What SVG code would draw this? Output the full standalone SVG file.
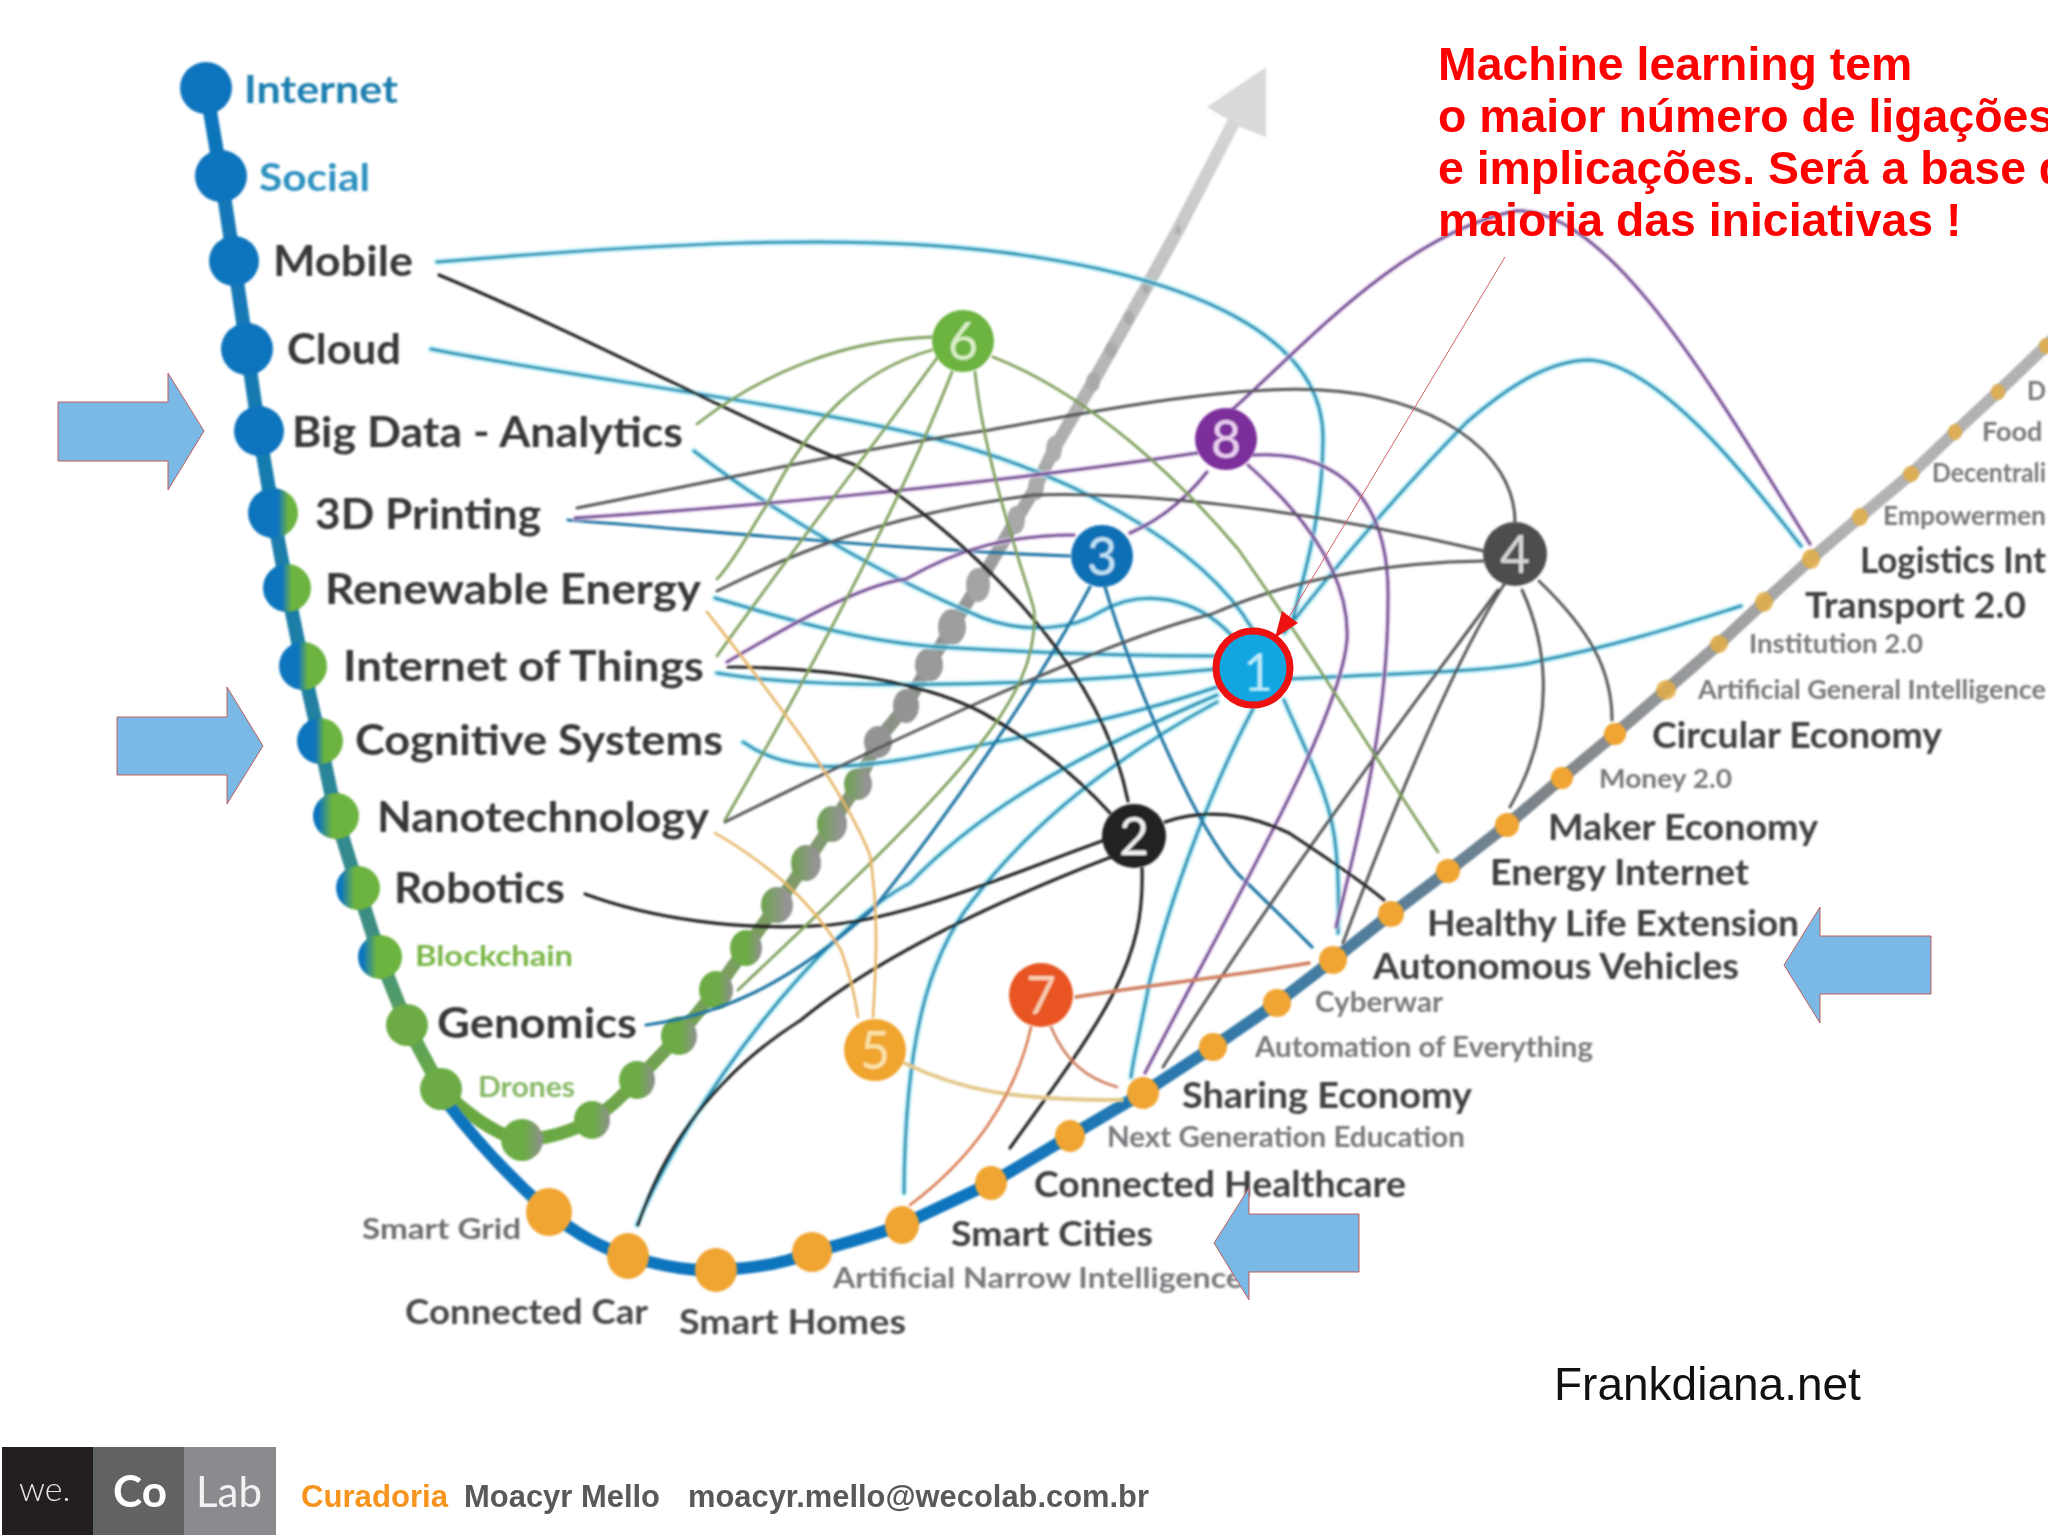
<svg xmlns="http://www.w3.org/2000/svg" xmlns:xlink="http://www.w3.org/1999/xlink" width="2048" height="1535" viewBox="0 0 2048 1535">
<style>
text{font-family:"Lato","Noto Sans",sans-serif}
.l{font-weight:700;fill:#38383a;font-size:42px}
.m{font-weight:700;fill:#3f4042;font-size:36px}
.s{font-weight:700;fill:#77787b;font-size:29px}
.d{font-weight:400;font-size:52px;text-anchor:middle}
.hl{font-family:"Liberation Sans",Arial,sans-serif;font-weight:700;font-size:46.4px;fill:#ff0000}
.ft{font-family:"Liberation Sans",Arial,sans-serif;font-weight:700;font-size:32px;fill:#58595b}
.c{fill:none;stroke-linecap:round}
.gr{stroke:#7f9f5c;stroke-width:2.8}
.or{stroke:#e7b566;stroke-width:2.6}
.dk{stroke:#555658;stroke-width:3}
.bk{stroke:#222;stroke-width:3.2}
.rd{stroke:#cf7d5d;stroke-width:2.6}
.arrow{fill:#7ab8e6;stroke:#c0605c;stroke-width:1}
.o{fill:#f0a532}
.t{fill:#e3ad45;opacity:.85}
.bl{fill:#0f75bd}
</style>
<defs>
<filter id="soft" x="-5%" y="-5%" width="110%" height="110%"><feGaussianBlur stdDeviation="0.8"/></filter>
<linearGradient id="spine" gradientUnits="userSpaceOnUse" x1="0" y1="88" x2="0" y2="1089"><stop offset="0" stop-color="#0f75bd"/><stop offset=".6" stop-color="#1f7fa5"/><stop offset=".85" stop-color="#3f8f80"/><stop offset="1" stop-color="#6cab45"/></linearGradient>
<linearGradient id="greenb" gradientUnits="userSpaceOnUse" x1="441" y1="1100" x2="1266" y2="100"><stop offset="0" stop-color="#68a93f"/><stop offset=".3" stop-color="#7f9a68"/><stop offset=".5" stop-color="#8d8f8e"/><stop offset=".75" stop-color="#b5b5b5"/><stop offset="1" stop-color="#d9d9d9"/></linearGradient>
<linearGradient id="orangeb" gradientUnits="userSpaceOnUse" x1="1000" y1="0" x2="1850" y2="0"><stop offset="0" stop-color="#0f75bd"/><stop offset=".35" stop-color="#3f7ba3"/><stop offset=".65" stop-color="#808488"/><stop offset="1" stop-color="#b2b2b2"/></linearGradient>
<linearGradient id="bg1"><stop offset=".6" stop-color="#0f75bd"/><stop offset=".8" stop-color="#6cb33f"/></linearGradient>
<linearGradient id="bg2"><stop offset=".4" stop-color="#0f75bd"/><stop offset=".6" stop-color="#6cb33f"/></linearGradient>
<linearGradient id="bg3"><stop offset=".12" stop-color="#0f75bd"/><stop offset=".42" stop-color="#6cb33f"/></linearGradient>
<linearGradient id="gg1"><stop offset=".55" stop-color="#6cab45"/><stop offset="1" stop-color="#8f8f8f"/></linearGradient>
<linearGradient id="gg2"><stop offset=".1" stop-color="#72a155"/><stop offset=".8" stop-color="#949494"/></linearGradient>
<g id="tealp">
<path d="M437,262 C640,245 850,232 1000,252 C1190,276 1325,335 1323,440 C1322,520 1305,570 1292,622"/>
<path d="M431,349 C560,375 800,405 932,438 C1060,470 1200,540 1253,630"/>
<path d="M694,451 C770,510 880,575 983,618 C1030,635 1075,628 1100,612 C1140,588 1195,595 1233,637"/>
<path d="M715,598 C790,620 870,645 957,648 C1060,654 1140,656 1217,656"/>
<path d="M717,673 C800,688 1000,690 1217,669"/>
<path d="M743,742 C790,775 850,768 906,759 C1010,740 1120,720 1217,687"/>
<path d="M637,1225 C690,1100 820,930 910,883 C990,800 1100,745 1217,695"/>
<path d="M904,1193 C905,1050 925,960 973,900 C1030,825 1110,760 1217,702"/>
<path d="M1253,709 C1210,790 1170,900 1150,980 C1140,1030 1133,1060 1131,1077"/>
<path d="M1284,700 C1310,760 1332,800 1336,850 C1340,890 1338,915 1338,933"/>
<path d="M1289,679 C1400,673 1500,672 1539,661 C1620,645 1690,622 1741,606"/>
<path d="M1284,633 C1340,560 1410,480 1467,422 C1510,385 1550,360 1590,360 C1660,365 1750,480 1801,546"/>
</g>
<g id="bluep">
<path d="M568,520 C700,530 900,550 1070,556"/>
<path d="M646,1025 C720,1015 790,985 875,907 C960,800 1040,680 1090,587"/>
<path d="M1105,587 C1130,670 1190,820 1238,874 C1270,905 1290,925 1312,947"/>
</g>
<g id="purp">
<path d="M1233,409 C1300,350 1400,235 1515,211 C1610,205 1720,400 1810,544"/>
<path d="M575,518 C700,510 950,490 1197,453"/>
<path d="M727,662 C790,625 860,585 906,579 C960,548 1010,535 1074,535"/>
<path d="M1130,533 C1160,520 1185,500 1207,472"/>
<path d="M1253,455 C1340,450 1390,500 1388,600 C1388,720 1360,830 1336,927"/>
<path d="M1248,465 C1310,520 1350,580 1347,640 C1340,720 1240,890 1145,1073"/>
</g>
</defs>

<g id="trends" filter="url(#soft)">
<path id="spine-line" class="c" d="M206,88 L221,176 L234,261 L247,349 L259,431 L273,513 L287,588 L303,666 L320,741 L336,816 L358,888 L380,957 L407,1025 L441,1089" stroke="url(#spine)" stroke-width="14"/>
<path id="green-line" class="c" d="M441,1089 Q490,1135 522,1140 Q560,1138 592,1120 Q615,1105 637,1080 L679,1036 L716,990 L746,948 L777,905 L806,863 L832,824 L858,784 L878,740 L906,706 L929,665 L952,627 L978,585 L1016,520 L1036,487 L1054,449 L1093,382 L1111,350 L1129,318 L1146,288 L1178,230 L1236,118" stroke="url(#greenb)" stroke-width="13"/>
<polygon id="trend-head" points="1266,67 1207,107 1240,127 1266,137" fill="#d9d9d9"/>
<path id="orange-line" class="c" d="M445,1100 Q490,1160 549,1212 Q590,1245 628,1256 Q680,1272 716,1270 Q775,1268 812,1252 Q860,1240 902,1225 L991,1183 L1070,1136 L1143,1093 L1213,1047 L1277,1003 L1333,960 L1391,914 L1448,871 L1507,825 L1562,778 L1615,734 L1666,690 L1719,644 L1764,602 L1811,559 L1860,517 L1911,474 L1955,432 L1998,392 L2052,340" stroke="url(#orangeb)" stroke-width="12"/>
<g id="green-dots">
<ellipse cx="522" cy="1140" rx="21" ry="21" fill="url(#gg1)"/><ellipse cx="592" cy="1120" rx="18" ry="19" fill="url(#gg1)"/><ellipse cx="637" cy="1080" rx="18" ry="19" fill="url(#gg1)"/><ellipse cx="679" cy="1036" rx="18" ry="19" fill="url(#gg1)"/><ellipse cx="716" cy="990" rx="17" ry="19" fill="url(#gg1)"/><ellipse cx="746" cy="948" rx="16" ry="18" fill="url(#gg1)"/><ellipse cx="777" cy="905" rx="16" ry="18" fill="url(#gg2)"/><ellipse cx="806" cy="863" rx="15" ry="18" fill="url(#gg2)"/><ellipse cx="832" cy="824" rx="15" ry="18" fill="url(#gg2)"/><ellipse cx="858" cy="784" rx="14" ry="16" fill="url(#gg2)"/><ellipse cx="878" cy="742" rx="14" ry="16" fill="#949494"/><ellipse cx="906" cy="706" rx="13" ry="17" fill="#949494"/><ellipse cx="929" cy="665" rx="14" ry="17" fill="#9a9a9a"/><ellipse cx="952" cy="627" rx="14" ry="18" fill="#9e9e9e"/><ellipse cx="978" cy="585" rx="12" ry="17" fill="#a4a4a4"/><ellipse cx="1016" cy="520" rx="9" ry="14" fill="#a8a8a8"/><ellipse cx="1036" cy="487" rx="8" ry="13" fill="#aaa"/><ellipse cx="1054" cy="449" rx="8" ry="13" fill="#adadad"/><ellipse cx="1093" cy="382" rx="7" ry="10" fill="#aaa"/><ellipse cx="1111" cy="350" rx="6" ry="8" fill="#aaa"/><ellipse cx="1129" cy="318" rx="5" ry="7" fill="#aaa"/><ellipse cx="1146" cy="288" rx="4" ry="6" fill="#aaa"/><ellipse cx="1178" cy="230" rx="3" ry="5" fill="#b0b0b0"/>
</g>
</g>

<g id="connectors" filter="url(#soft)">
<use xlink:href="#tealp" href="#tealp" class="c" stroke="#a5ecf7" stroke-width="7" opacity=".6"/>
<use xlink:href="#tealp" href="#tealp" class="c" stroke="#2a93b6" stroke-width="3"/>
<use xlink:href="#bluep" href="#bluep" class="c" stroke="#2077a5" stroke-width="3.2"/>
<use xlink:href="#purp" href="#purp" class="c" stroke="#f0d6f5" stroke-width="6" opacity=".6"/>
<use xlink:href="#purp" href="#purp" class="c" stroke="#6e4a92" stroke-width="3"/>
<g id="links-dark">
<path class="c dk" d="M577,508 C720,480 880,445 990,430 C1100,410 1230,385 1320,390 C1430,395 1515,450 1515,522"/>
<path class="c dk" d="M717,591 C790,555 880,515 1034,495 C1130,492 1290,505 1484,551"/>
<path class="c dk" d="M725,822 C830,770 1100,640 1212,614 C1300,575 1400,562 1484,561"/>
<path class="c dk" d="M1498,590 C1440,670 1300,850 1163,1067"/>
<path class="c dk" d="M1505,583 C1460,650 1400,790 1343,943"/>
<path class="c dk" d="M1522,590 C1545,640 1560,720 1510,807"/>
<path class="c dk" d="M1539,581 C1590,630 1612,670 1612,720"/>
</g>
<g id="links-black">
<path class="c bk" d="M439,275 C600,342 760,430 855,465 C970,540 1100,660 1128,801"/>
<path class="c bk" d="M728,667 C830,668 920,680 983,713 C1040,745 1080,780 1110,813"/>
<path class="c bk" d="M585,894 C650,918 740,932 830,925 C920,915 1020,870 1105,840"/>
<path class="c bk" d="M638,1225 C670,1130 730,1065 801,1020 C880,955 1000,900 1111,857"/>
<path class="c bk" d="M1165,822 C1200,810 1240,810 1289,833 C1330,860 1360,880 1384,900"/>
<path class="c bk" d="M1142,868 C1145,960 1110,1010 1010,1148"/>
</g>
<g id="links-green">
<path class="c gr" d="M697,424 C760,375 840,340 932,337"/>
<path class="c gr" d="M932,350 C860,370 810,420 768,503 C750,530 735,560 717,579"/>
<path class="c gr" d="M937,358 C870,450 800,540 717,656"/>
<path class="c gr" d="M952,372 C910,480 840,620 725,820"/>
<path class="c gr" d="M975,372 C985,470 1030,590 1034,610 C1040,700 960,780 738,990"/>
<path class="c gr" d="M993,357 C1090,395 1180,480 1238,549 C1310,650 1370,750 1438,852"/>
</g>
<g id="links-orange">
<path class="c or" d="M707,612 C760,680 840,780 870,855 C880,920 875,980 873,1017"/>
<path class="c or" d="M715,833 C770,865 810,900 841,950 C850,975 855,995 858,1017"/>
<path class="c or" d="M904,1063 C960,1090 1010,1100 1122,1100" style="stroke:#e2c98b;stroke-width:4"/>
</g>
<g id="links-seven">
<path class="c rd" d="M1076,997 C1150,985 1240,975 1309,963" style="stroke-width:3.5"/>
<path class="c rd" d="M1051,1027 C1065,1060 1085,1078 1117,1087"/>
<path class="c rd" d="M1031,1027 C1015,1100 970,1160 910,1205" style="stroke:#d97a50"/>
</g>
</g>

<g id="spine-dots" filter="url(#soft)">
<g id="n-internet"><ellipse class="bl" cx="206" cy="88" rx="26" ry="26"/><text x="244" y="103" textLength="154" lengthAdjust="spacingAndGlyphs" class="l" style="fill:#1f7fb0;font-size:38px">Internet</text></g>
<g id="n-social"><ellipse class="bl" cx="221" cy="176" rx="26" ry="26"/><text x="259" y="191" textLength="111" lengthAdjust="spacingAndGlyphs" class="l" style="fill:#2f92c0;font-size:38px">Social</text></g>
<g id="n-mobile"><ellipse class="bl" cx="234" cy="261" rx="25" ry="25"/><text x="273" y="276" textLength="140" lengthAdjust="spacingAndGlyphs" class="l">Mobile</text></g>
<g id="n-cloud"><ellipse class="bl" cx="247" cy="349" rx="26" ry="26"/><text x="287" y="364" textLength="114" lengthAdjust="spacingAndGlyphs" class="l">Cloud</text></g>
<g id="n-bigdata"><ellipse class="bl" cx="259" cy="431" rx="25" ry="25"/><text x="292" y="447" textLength="391" lengthAdjust="spacingAndGlyphs" class="l">Big Data - Analytics</text></g>
<g id="n-3d"><ellipse cx="273" cy="513" rx="25" ry="25" fill="url(#bg1)"/><text x="315" y="529" textLength="226" lengthAdjust="spacingAndGlyphs" class="l">3D Printing</text></g>
<g id="n-renewable"><ellipse cx="287" cy="588" rx="24" ry="24" fill="url(#bg2)"/><text x="325" y="604" textLength="376" lengthAdjust="spacingAndGlyphs" class="l">Renewable Energy</text></g>
<g id="n-iot"><ellipse cx="303" cy="666" rx="24" ry="24" fill="url(#bg2)"/><text x="343" y="681" textLength="361" lengthAdjust="spacingAndGlyphs" class="l">Internet of Things</text></g>
<g id="n-cognitive"><ellipse cx="320" cy="741" rx="23" ry="23" fill="url(#bg2)"/><text x="355" y="755" textLength="368" lengthAdjust="spacingAndGlyphs" class="l">Cognitive Systems</text></g>
<g id="n-nano"><ellipse cx="336" cy="816" rx="23" ry="23" fill="url(#bg3)"/><text x="377" y="832" textLength="332" lengthAdjust="spacingAndGlyphs" class="l">Nanotechnology</text></g>
<g id="n-robotics"><ellipse cx="358" cy="888" rx="22" ry="22" fill="url(#bg3)"/><text x="394" y="903" textLength="171" lengthAdjust="spacingAndGlyphs" class="l">Robotics</text></g>
<g id="n-blockchain"><ellipse cx="380" cy="957" rx="22" ry="22" fill="url(#bg3)"/><text x="415" y="966" textLength="158" lengthAdjust="spacingAndGlyphs" class="s" style="fill:#7ab648">Blockchain</text></g>
<g id="n-genomics"><ellipse cx="407" cy="1025" rx="21" ry="21" fill="#6cab45"/><text x="437" y="1038" textLength="200" lengthAdjust="spacingAndGlyphs" class="l">Genomics</text></g>
<g id="n-drones"><ellipse cx="441" cy="1089" rx="21" ry="21" fill="#6cab45"/><text x="478" y="1097" textLength="97" lengthAdjust="spacingAndGlyphs" class="s" style="fill:#86b866">Drones</text></g>
</g>

<g id="orange-dots" filter="url(#soft)">
<g id="n-smartgrid"><ellipse class="o" cx="549" cy="1212" rx="23" ry="24"/><text x="362" y="1239" textLength="159" lengthAdjust="spacingAndGlyphs" class="s" style="fill:#6d6e71">Smart Grid</text></g>
<g id="n-connectedcar"><ellipse class="o" cx="628" cy="1256" rx="21" ry="23"/><text x="405" y="1324" textLength="243" lengthAdjust="spacingAndGlyphs" class="m" style="font-size:34px;fill:#4a4a4c">Connected Car</text></g>
<g id="n-smarthomes"><ellipse class="o" cx="716" cy="1270" rx="21" ry="22"/><text x="679" y="1334" textLength="227" lengthAdjust="spacingAndGlyphs" class="m" style="font-size:34px;fill:#4a4a4c">Smart Homes</text></g>
<g id="n-ani"><ellipse class="o" cx="812" cy="1252" rx="20" ry="20"/><text x="833" y="1288" textLength="410" lengthAdjust="spacingAndGlyphs" class="s">Artificial Narrow Intelligence</text></g>
<g id="n-smartcities"><ellipse class="o" cx="902" cy="1225" rx="17" ry="19"/><text x="951" y="1246" textLength="202" lengthAdjust="spacingAndGlyphs" class="m" style="font-size:34px">Smart Cities</text></g>
<g id="n-healthcare"><ellipse class="o" cx="991" cy="1183" rx="16" ry="17"/><text x="1034" y="1197" textLength="372" lengthAdjust="spacingAndGlyphs" class="m">Connected Healthcare</text></g>
<g id="n-education"><ellipse class="o" cx="1070" cy="1136" rx="15" ry="16"/><text x="1107" y="1147" textLength="358" lengthAdjust="spacingAndGlyphs" class="s">Next Generation  Education</text></g>
<g id="n-sharing"><ellipse class="o" cx="1143" cy="1093" rx="16" ry="16"/><text x="1182" y="1108" textLength="290" lengthAdjust="spacingAndGlyphs" class="m">Sharing Economy</text></g>
<g id="n-automation"><ellipse class="o" cx="1213" cy="1047" rx="14" ry="14"/><text x="1255" y="1057" textLength="338" lengthAdjust="spacingAndGlyphs" class="s">Automation of Everything</text></g>
<g id="n-cyberwar"><ellipse class="o" cx="1277" cy="1003" rx="14" ry="14"/><text x="1315" y="1012" textLength="128" lengthAdjust="spacingAndGlyphs" class="s">Cyberwar</text></g>
<g id="n-autonomous"><ellipse class="o" cx="1333" cy="960" rx="14" ry="14"/><text x="1373" y="979" textLength="366" lengthAdjust="spacingAndGlyphs" class="m">Autonomous Vehicles</text></g>
<g id="n-healthy"><ellipse class="o" cx="1391" cy="914" rx="13" ry="13"/><text x="1427" y="936" textLength="372" lengthAdjust="spacingAndGlyphs" class="m">Healthy Life Extension</text></g>
<g id="n-energy"><ellipse class="o" cx="1448" cy="871" rx="12" ry="12"/><text x="1490" y="885" textLength="259" lengthAdjust="spacingAndGlyphs" class="m">Energy Internet</text></g>
<g id="n-maker"><ellipse class="o" cx="1507" cy="825" rx="12" ry="12"/><text x="1548" y="840" textLength="270" lengthAdjust="spacingAndGlyphs" class="m">Maker Economy</text></g>
<g id="n-money"><ellipse class="o" cx="1562" cy="778" rx="11" ry="11"/><text x="1599" y="788" textLength="133" lengthAdjust="spacingAndGlyphs" class="s" style="font-size:27px">Money 2.0</text></g>
<g id="n-circular"><ellipse class="o" cx="1615" cy="734" rx="11" ry="11"/><text x="1652" y="748" textLength="290" lengthAdjust="spacingAndGlyphs" class="m">Circular Economy</text></g>
<g id="n-agi"><ellipse class="t" cx="1666" cy="690" rx="10" ry="10"/><text x="1698" y="699" class="s" style="font-size:27px">Artificial General Intelligence</text></g>
<g id="n-institution"><ellipse class="t" cx="1719" cy="644" rx="9" ry="9"/><text x="1749" y="653" textLength="174" lengthAdjust="spacingAndGlyphs" class="s" style="font-size:27px">Institution  2.0</text></g>
<g id="n-transport"><ellipse class="t" cx="1764" cy="602" rx="9" ry="10"/><text x="1805" y="618" textLength="221" lengthAdjust="spacingAndGlyphs" class="m">Transport 2.0</text></g>
<g id="n-logistics"><ellipse class="t" cx="1811" cy="559" rx="9" ry="10"/><text x="1860" y="573" textLength="186" lengthAdjust="spacingAndGlyphs" class="m">Logistics Int</text></g>
<g id="n-empower"><ellipse class="t" cx="1860" cy="517" rx="8" ry="9"/><text x="1883" y="525" textLength="163" lengthAdjust="spacingAndGlyphs" class="s" style="font-size:27px">Empowermen</text></g>
<g id="n-decentral"><ellipse class="t" cx="1911" cy="474" rx="8" ry="8"/><text x="1932" y="482" textLength="114" lengthAdjust="spacingAndGlyphs" class="s" style="font-size:27px">Decentrali</text></g>
<g id="n-food"><ellipse class="t" cx="1955" cy="432" rx="7" ry="8"/><text x="1982" y="441" class="s" style="font-size:27px">Food</text></g>
<g id="n-d"><ellipse class="t" cx="1998" cy="392" rx="7" ry="8"/><text x="2027" y="400" textLength="19" lengthAdjust="spacingAndGlyphs" class="s" style="font-size:27px">D</text></g>
<ellipse class="t" cx="2046" cy="346" rx="7" ry="8"/>
</g>

<g id="hub-6" filter="url(#soft)"><circle cx="963" cy="341" r="31" fill="#6cb33f"/><text x="963" y="360" class="d" fill="#d9f0c5">6</text></g>
<g id="hub-8" filter="url(#soft)"><circle cx="1226" cy="439" r="31" fill="#7b2d9b"/><text x="1226" y="458" class="d" fill="#ecd0f2">8</text></g>
<g id="hub-3" filter="url(#soft)"><circle cx="1102" cy="556" r="31" fill="#0b6fb5"/><text x="1102" y="575" class="d" fill="#bfe3f7">3</text></g>
<g id="hub-4" filter="url(#soft)"><circle cx="1515" cy="554" r="32" fill="#4d4d4f"/><text x="1515" y="573" class="d" fill="#d6d6d6">4</text></g>
<g id="hub-2" filter="url(#soft)"><circle cx="1134" cy="836" r="32" fill="#222"/><text x="1134" y="855" class="d" fill="#f2f2f2">2</text></g>
<g id="hub-5" filter="url(#soft)"><circle cx="875" cy="1050" r="31" fill="#f0a52d"/><text x="875" y="1069" class="d" fill="#fbe2a8">5</text></g>
<g id="hub-7" filter="url(#soft)"><circle cx="1041" cy="995" r="32" fill="#e85422"/><text x="1041" y="1014" class="d" fill="#f8cdb0">7</text></g>
<g id="hub-1"><circle cx="1253" cy="668" r="37" fill="#12a5e0" stroke="#ee1111" stroke-width="7"/><text x="1258" y="691" class="d" fill="#bfeafa" filter="url(#soft)">1</text></g>

<g id="callout-arrow">
<line x1="1505" y1="257" x2="1286" y2="622" stroke="#d9606a" stroke-width="1"/>
<polygon points="1275,638 1282,611 1298,623" fill="#ee1111"/>
</g>

<g id="block-arrows">
<polygon class="arrow" points="58,402 168,402 168,373 204,431 168,490 168,461 58,461"/>
<polygon class="arrow" points="117,717 227,717 227,687 263,746 227,804 227,775 117,775"/>
<polygon class="arrow" points="1931,936 1820,936 1820,907 1784,965 1820,1023 1820,994 1931,994"/>
<polygon class="arrow" points="1359,1214 1249,1214 1249,1188 1214,1243 1249,1300 1249,1272 1359,1272"/>
</g>

<g id="headline">
<text class="hl" x="1438" y="80">Machine learning tem</text>
<text class="hl" x="1438" y="132">o maior número de ligações</text>
<text class="hl" x="1438" y="184">e implicações. Será a base d</text>
<text class="hl" x="1438" y="236">maioria das iniciativas !</text>
</g>

<text id="source" x="1554" y="1400" style="font-family:'Liberation Sans',Arial,sans-serif;font-size:46px;fill:#111">Frankdiana.net</text>

<g id="footer">
<rect x="2" y="1447" width="91" height="88" fill="#231f20"/>
<rect x="93" y="1447" width="91" height="88" fill="#616264"/>
<rect x="184" y="1447" width="92" height="88" fill="#8a8b8e"/>
<text x="19" y="1501" style="font-size:34px;font-weight:300;fill:#e6e6e6">we.</text>
<text x="113" y="1507" style="font-size:44px;font-weight:700;fill:#fff">Co</text>
<text x="196" y="1507" style="font-size:42px;font-weight:400;fill:#f2f2f2">Lab</text>
<text class="ft" x="301" y="1507" style="fill:#f7941d" textLength="147" lengthAdjust="spacingAndGlyphs">Curadoria</text>
<text class="ft" x="464" y="1507" textLength="196" lengthAdjust="spacingAndGlyphs">Moacyr Mello</text>
<text class="ft" x="688" y="1507" textLength="461" lengthAdjust="spacingAndGlyphs">moacyr.mello@wecolab.com.br</text>
</g>
</svg>
